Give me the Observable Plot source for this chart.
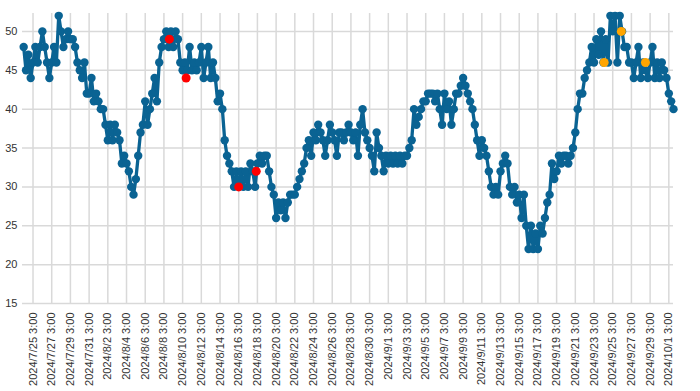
<!DOCTYPE html>
<html><head><meta charset="utf-8">
<script src="https://cdn.jsdelivr.net/npm/d3@7"></script>
<script src="https://cdn.jsdelivr.net/npm/@observablehq/plot@0.6"></script>
<style>body{margin:0;background:#fff;}</style>
</head><body><div id="chart"></div>
<script>
// Series: readings every 6 hours starting 2024-07-24 03:00
const seriesStart = "2024-07-24T03:00:00Z";
const seriesStepHours = 6;
const values = [
48,45,47,44,46,48,46,48,50,48,
46,44,46,48,46,52,50,48,49,50,
49,49,48,46,45,44,46,42,42,44,
41,42,41,40,40,38,36,38,36,38,
37,36,33,34,33,32,30,29,31,34,
37,38,41,38,40,42,44,41,46,48,
49,50,48,50,48,50,49,46,45,46,
45,48,45,46,45,46,48,44,46,48,
44,46,44,41,42,40,36,34,33,32,
30,32,30,32,30,32,30,33,32,30,
33,34,33,34,34,32,30,29,26,28,
27,28,26,28,29,29,29,30,31,32,
33,35,36,34,37,36,38,37,36,34,
36,38,37,36,34,37,37,36,37,38,
37,36,37,34,38,40,37,36,35,34,
32,37,35,34,32,34,33,34,33,34,
33,34,33,34,34,35,36,40,38,39,
40,41,41,42,42,42,41,42,40,38,
42,40,41,38,40,42,42,43,44,43,
42,41,40,38,36,34,36,35,34,32,
30,29,30,29,32,33,34,33,30,29,
30,28,29,26,29,25,22,25,22,24,
22,25,24,26,28,29,33,31,32,34,
33,34,34,33,34,35,37,40,42,42,
44,45,46,48,46,49,47,50,46,49,
46,52,50,52,46,52,50,48,48,46,
46,44,46,48,44,46,45,44,46,48,
44,46,44,46,45,44,42,41,40
];
const redTimes = ["2024-08-08T17:00:00Z","2024-08-10T12:00:00Z","2024-08-16T03:00:00Z","2024-08-18T00:00:00Z"];
const redValues = [49,44,30,32];
const orangeTimes = ["2024-09-24T05:00:00Z","2024-09-26T01:00:00Z","2024-09-28T15:00:00Z"];
const orangeValues = [46,50,46];
const yTicks = [15,20,25,30,35,40,45,50];
const xTickLabels = [
"2024/7/25 3:00","2024/7/27 3:00","2024/7/29 3:00","2024/7/31 3:00",
"2024/8/2 3:00","2024/8/4 3:00","2024/8/6 3:00","2024/8/8 3:00","2024/8/10 3:00",
"2024/8/12 3:00","2024/8/14 3:00","2024/8/16 3:00","2024/8/18 3:00","2024/8/20 3:00",
"2024/8/22 3:00","2024/8/24 3:00","2024/8/26 3:00","2024/8/28 3:00","2024/8/30 3:00",
"2024/9/1 3:00","2024/9/3 3:00","2024/9/5 3:00","2024/9/7 3:00","2024/9/9 3:00",
"2024/9/11 3:00","2024/9/13 3:00","2024/9/15 3:00","2024/9/17 3:00","2024/9/19 3:00",
"2024/9/21 3:00","2024/9/23 3:00","2024/9/25 3:00","2024/9/27 3:00","2024/9/29 3:00",
"2024/10/1 3:00"
];

const t0 = new Date(seriesStart).getTime();
const series = values.map((v, i) => ({t: new Date(t0 + i * seriesStepHours * 3600e3), v}));
const red = redTimes.map((t, i) => ({t: new Date(t), v: redValues[i]}));
const orange = orangeTimes.map((t, i) => ({t: new Date(t), v: orangeValues[i]}));
const parseLabel = d3.utcParse("%Y/%m/%d %H:%M");
const xTicks = xTickLabels.map(parseLabel);
const labelMap = new Map(xTicks.map((d, i) => [+d, xTickLabels[i]]));

const blue = "#0a6393";
const grid = "#d9d9d9";

const chart = Plot.plot({
  width: 700, height: 391,
  marginLeft: 22, marginRight: 27, marginTop: 13, marginBottom: 88,
  style: {fontFamily: "'Liberation Sans', Arial, sans-serif", fontSize: "11px", color: "#333", background: "#fff"},
  x: {type: "utc", domain: [new Date("2024-07-24T00:00:00Z"), new Date("2024-10-01T15:00:00Z")]},
  y: {domain: [15, 52.3]},
  marks: [
    Plot.gridX(xTicks, {stroke: grid, strokeOpacity: 1, strokeWidth: 1.5}),
    Plot.gridY(yTicks, {stroke: grid, strokeOpacity: 1, strokeWidth: 1.5}),
    Plot.axisY(yTicks, {tickSize: 0, tickPadding: 5, label: null, fill: "#333"}),
    Plot.axisX(xTicks, {tickSize: 0, tickPadding: 9, tickRotate: -90, label: null, tickFormat: d => labelMap.get(+d), fill: "#333"}),
    Plot.line(series, {x: "t", y: "v", stroke: blue, strokeWidth: 3.3}),
    Plot.dot(series, {x: "t", y: "v", r: 4.2, fill: blue, stroke: "none"}),
    Plot.dot(red, {x: "t", y: "v", r: 4.5, fill: "#ff0000", stroke: "none"}),
    Plot.dot(orange, {x: "t", y: "v", r: 4.5, fill: "#ffa500", stroke: "none"})
  ]
});
document.getElementById("chart").appendChild(chart);
</script>
</body></html>
